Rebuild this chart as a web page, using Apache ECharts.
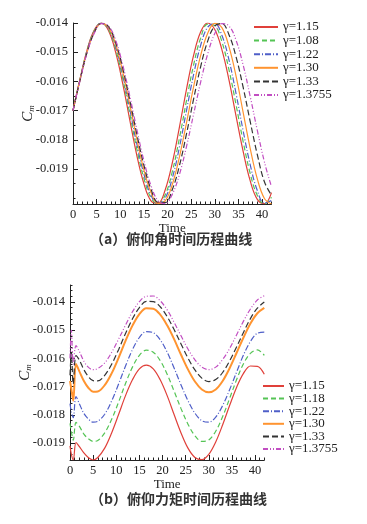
<!DOCTYPE html>
<html>
<head>
<meta charset="utf-8">
<script src="https://cdn.jsdelivr.net/npm/echarts@6/dist/echarts.min.js"></script>
<style>
html,body{margin:0;padding:0;background:#fff;}
#c{width:367px;height:524px;}
</style>
</head>
<body>
<div id="c"></div>
<script>
// ---------- data: (a) pitch-angle history ----------
var timesA = [0,1.5,3,4.5,6,7.5,9,10.5,12,13.5,15,16.5,18,19.5,21,22.5,24,25.5,27,28.5,30,31.5,33,34.5,36,37.5,39,40.5,42];
var namesA = ['γ=1.15','γ=1.08','γ=1.22','γ=1.30','γ=1.33','γ=1.3755'];
var a115 = [-0.0170,-0.01591,-0.01491,-0.01424,-0.01400,-0.01426,-0.01499,-0.01606,-0.01731,-0.01853,-0.01950,-0.02009,-0.02017,-0.01972,-0.01880,-0.01758,-0.01628,-0.01512,-0.01431,-0.01400,-0.01422,-0.01491,-0.01595,-0.01719,-0.01840,-0.01941,-0.02004,-0.02019,-0.01981];
var a108 = [-0.0170,-0.01592,-0.01493,-0.01427,-0.01400,-0.01421,-0.01488,-0.01589,-0.01710,-0.01831,-0.01932,-0.01999,-0.02020,-0.01989,-0.01910,-0.01796,-0.01667,-0.01545,-0.01452,-0.01404,-0.01409,-0.01464,-0.01560,-0.01680,-0.01806,-0.01916,-0.01991,-0.02020,-0.01997];
var a122 = [-0.0170,-0.01593,-0.01495,-0.01429,-0.01400,-0.01418,-0.01480,-0.01576,-0.01694,-0.01814,-0.01917,-0.01990,-0.02019,-0.02000,-0.01932,-0.01827,-0.01701,-0.01578,-0.01477,-0.01414,-0.01402,-0.01442,-0.01526,-0.01642,-0.01769,-0.01886,-0.01974,-0.02017,-0.02008];
var a130 = [-0.0170,-0.01594,-0.01497,-0.01431,-0.01401,-0.01415,-0.01472,-0.01565,-0.01678,-0.01797,-0.01903,-0.01980,-0.02018,-0.02009,-0.01954,-0.01860,-0.01743,-0.01620,-0.01512,-0.01435,-0.01401,-0.01416,-0.01481,-0.01582,-0.01706,-0.01830,-0.01934,-0.02001,-0.02020];
var a133 = [-0.0170,-0.01595,-0.01499,-0.01433,-0.01401,-0.01412,-0.01465,-0.01553,-0.01663,-0.01780,-0.01887,-0.01969,-0.02014,-0.02015,-0.01971,-0.01890,-0.01781,-0.01662,-0.01550,-0.01462,-0.01410,-0.01402,-0.01440,-0.01516,-0.01620,-0.01738,-0.01851,-0.01944,-0.01990];
var a13755 = [-0.0170,-0.01596,-0.01501,-0.01435,-0.01402,-0.01410,-0.01458,-0.01542,-0.01649,-0.01764,-0.01872,-0.01957,-0.02009,-0.02019,-0.01987,-0.01920,-0.01824,-0.01714,-0.01603,-0.01506,-0.01436,-0.01402,-0.01410,-0.01459,-0.01544,-0.01652,-0.01768,-0.01876,-0.01961];
var yLabelsA = [-0.019,-0.018,-0.017,-0.016,-0.015,-0.014];
var yMinorA = [-0.0200,-0.0195,-0.0190,-0.0185,-0.0180,-0.0175,-0.0170,-0.0165,-0.0160,-0.0155,-0.0150,-0.0145,-0.0140];

// ---------- data: (b) pitch-moment history ----------
var timesB = [0,0.3,0.7,1.3,2,3,4,5,6,7.5,9,10.5,12,13.5,15,16.5,18,19.5,21,22.5,24,25.5,27,28.5,30,31.5,33,34.5,36,37.5,39,40.5,42];
var namesB = ['γ=1.15','γ=1.18','γ=1.22','γ=1.30','γ=1.33','γ=1.3755'];
var b115 = [-0.0191,-0.0194,-0.0196,-0.01898,-0.01912,-0.01935,-0.01952,-0.01960,-0.01951,-0.01918,-0.01864,-0.01799,-0.01732,-0.01676,-0.01637,-0.01624,-0.01637,-0.01676,-0.01732,-0.01799,-0.01864,-0.01918,-0.01951,-0.01959,-0.01940,-0.01896,-0.01835,-0.01767,-0.01703,-0.01653,-0.01627,-0.01628,-0.01656];
var b118 = [-0.0183,-0.0186,-0.0189,-0.01827,-0.0184,-0.01868,-0.01885,-0.01894,-0.01891,-0.01864,-0.01816,-0.01755,-0.01689,-0.01631,-0.01589,-0.01571,-0.01578,-0.01608,-0.01656,-0.01716,-0.01778,-0.01833,-0.01874,-0.01894,-0.01889,-0.01858,-0.01806,-0.01742,-0.01676,-0.01619,-0.01582,-0.01570,-0.01589];
var b122 = [-0.0176,-0.0179,-0.0181,-0.01735,-0.0176,-0.01795,-0.01815,-0.01826,-0.01823,-0.01798,-0.01751,-0.01691,-0.01627,-0.01569,-0.01526,-0.01505,-0.01509,-0.01534,-0.01578,-0.01634,-0.01694,-0.01750,-0.01794,-0.01821,-0.01826,-0.01808,-0.01767,-0.01711,-0.01649,-0.01588,-0.01540,-0.01511,-0.01507];
var b130 = [-0.0168,-0.0171,-0.0175,-0.0162,-0.01645,-0.01680,-0.01705,-0.01718,-0.01717,-0.01695,-0.01653,-0.01598,-0.01538,-0.01484,-0.01443,-0.01422,-0.01424,-0.01445,-0.01483,-0.01532,-0.01587,-0.01639,-0.01682,-0.01710,-0.01720,-0.01710,-0.01680,-0.01635,-0.01581,-0.01526,-0.01476,-0.01440,-0.01421];
var b133 = [-0.0166,-0.0158,-0.0169,-0.0159,-0.01605,-0.01640,-0.01665,-0.01679,-0.01680,-0.01660,-0.01621,-0.01569,-0.01512,-0.01460,-0.01420,-0.01398,-0.01399,-0.01417,-0.01452,-0.01498,-0.01549,-0.01599,-0.01641,-0.01670,-0.01682,-0.01675,-0.01650,-0.01609,-0.01560,-0.01508,-0.01459,-0.01422,-0.01400];
var b13755 = [-0.0160,-0.0150,-0.0162,-0.01555,-0.01575,-0.01610,-0.01632,-0.01640,-0.01636,-0.01616,-0.01579,-0.01532,-0.01482,-0.01435,-0.01399,-0.01380,-0.01379,-0.01396,-0.01428,-0.01472,-0.01520,-0.01567,-0.01605,-0.01631,-0.01640,-0.01631,-0.01604,-0.01565,-0.01517,-0.01468,-0.01425,-0.01393,-0.01378];
var yLabelsB = [-0.019,-0.018,-0.017,-0.016,-0.015,-0.014];
var yMinorB = [-0.0196,-0.0194,-0.0192,-0.0190,-0.0188,-0.0186,-0.0184,-0.0182,-0.0180,-0.0178,-0.0176,-0.0174,-0.0172,-0.0170,-0.0168,-0.0166,-0.0164,-0.0162,-0.0160,-0.0158,-0.0156,-0.0154,-0.0152,-0.0150,-0.0148,-0.0146,-0.0144,-0.0142,-0.0140,-0.0138,-0.0136,-0.0134];

var xLabels = [0,5,10,15,20,25,30,35,40];
var xMinor = [0,1,2,3,4,5,6,7,8,9,10,11,12,13,14,15,16,17,18,19,20,21,22,23,24,25,26,27,28,29,30,31,32,33,34,35,36,37,38,39,40,41,42];

// ---------- styling ----------
var SERIF = 'Liberation Serif';
var colors = ['#e0403a','#55c455','#4f5fc8','#ff9430','#333333','#c24ec2'];
var dashes = ['solid',[5,3],[6,2,1,2],'solid',[6,3],[5,2,1,2,1,2]];

function zip(t, v){ var r=[]; for(var i=0;i<t.length;i++) r.push([t[i], v[i]]); return r; }

var chart = echarts.init(document.getElementById('c'), null, {renderer:'canvas'});

function yAxes(gi, min, max, labels, minor){
  return [{
    gridIndex: gi, type:'value', min:min, max:max, position:'left',
    name:'{c|C}{m|m}', nameLocation:'middle', nameRotate:90, nameGap:37, nameMoveOverlap:false,
    nameTextStyle:{rich:{
      c:{fontFamily:SERIF, fontStyle:'italic', fontSize:15, color:'#222', lineHeight:16},
      m:{fontFamily:SERIF, fontStyle:'italic', fontSize:9, color:'#222', lineHeight:16, padding:[8,0,0,0]}
    }},
    axisLine:{show:true, lineStyle:{color:'#222', width:1}},
    axisTick:{show:true, inside:true, length:5, customValues:labels, lineStyle:{color:'#222'}},
    axisLabel:{customValues:labels, formatter:function(v){return v.toFixed(3);}, fontFamily:SERIF, fontSize:12.5, color:'#222', margin:5},
    splitLine:{show:false}
  },{
    gridIndex: gi, type:'value', min:min, max:max, position:'left',
    axisLine:{show:false},
    axisTick:{show:true, inside:true, length:2.5, customValues:minor, lineStyle:{color:'#222'}},
    axisLabel:{show:false}, splitLine:{show:false}
  }];
}
function xAxes(gi){
  return [{
    gridIndex: gi, type:'value', min:0, max:42, position:'bottom',
    name:'Time', nameLocation:'middle', nameGap:15,
    nameTextStyle:{fontFamily:SERIF, fontSize:13, color:'#222'},
    axisLine:{show:true, lineStyle:{color:'#222', width:1}},
    axisTick:{show:true, inside:true, length:5, customValues:xLabels, lineStyle:{color:'#222'}},
    axisLabel:{customValues:xLabels, fontFamily:SERIF, fontSize:12.5, color:'#222', margin:4},
    splitLine:{show:false}
  },{
    gridIndex: gi, type:'value', min:0, max:42, position:'bottom',
    axisLine:{show:false},
    axisTick:{show:true, inside:true, length:2.5, customValues:xMinor, lineStyle:{color:'#222'}},
    axisLabel:{show:false}, splitLine:{show:false}
  }];
}

var seriesA = [a115,a108,a122,a130,a133,a13755];
var seriesB = [b115,b118,b122,b130,b133,b13755];
var series = [];
seriesA.forEach(function(v,i){
  series.push({type:'line', name:namesA[i], xAxisIndex:0, yAxisIndex:0, data:zip(timesA,v),
    smooth:0.4, symbol:'none', clip:true,
    lineStyle:{color:colors[i], width:1.2, type:dashes[i]}, itemStyle:{color:colors[i]}});
});
seriesB.forEach(function(v,i){
  series.push({type:'line', name:namesB[i], xAxisIndex:2, yAxisIndex:2, data:zip(timesB,v),
    smooth:0.35, symbol:'none', clip:true,
    lineStyle:{color:colors[i], width:(i===3?2:1.2), type:dashes[i]}, itemStyle:{color:colors[i]}});
});

var legendText = {fontFamily:SERIF, fontSize:13, color:'#222', lineHeight:13};
var option = {
  animation:false,
  backgroundColor:'#ffffff',
  grid:[
    {left:73, top:23, width:198.5, height:181},
    {left:70, top:285, width:194.3, height:175}
  ],
  xAxis: xAxes(0).concat(xAxes(1)),
  yAxis: yAxes(0,-0.0202,-0.014,yLabelsA,yMinorA).concat(yAxes(1,-0.0196,-0.0134,yLabelsB,yMinorB)),
  legend:[
    {data:namesA, orient:'vertical', left:253, top:20.5, padding:0, itemWidth:24, itemHeight:8, itemGap:0.6,
     itemStyle:{opacity:0}, textStyle:legendText, selectedMode:false},
    {data:namesB, orient:'vertical', left:262, top:379.5, padding:0, itemWidth:21, itemHeight:8, itemGap:-0.4,
     itemStyle:{opacity:0}, textStyle:legendText, selectedMode:false}
  ],
  graphic:[
    {type:'text', left:90, top:232, style:{text:'（a）俯仰角时间历程曲线', font:'bold 14px "Noto Sans CJK SC"', fill:'#333'}},
    {type:'text', left:90, top:492, style:{text:'（b）俯仰力矩时间历程曲线', font:'bold 14px "Noto Sans CJK SC"', fill:'#333'}}
  ],
  series: series
};
chart.setOption(option);
</script>
</body>
</html>
